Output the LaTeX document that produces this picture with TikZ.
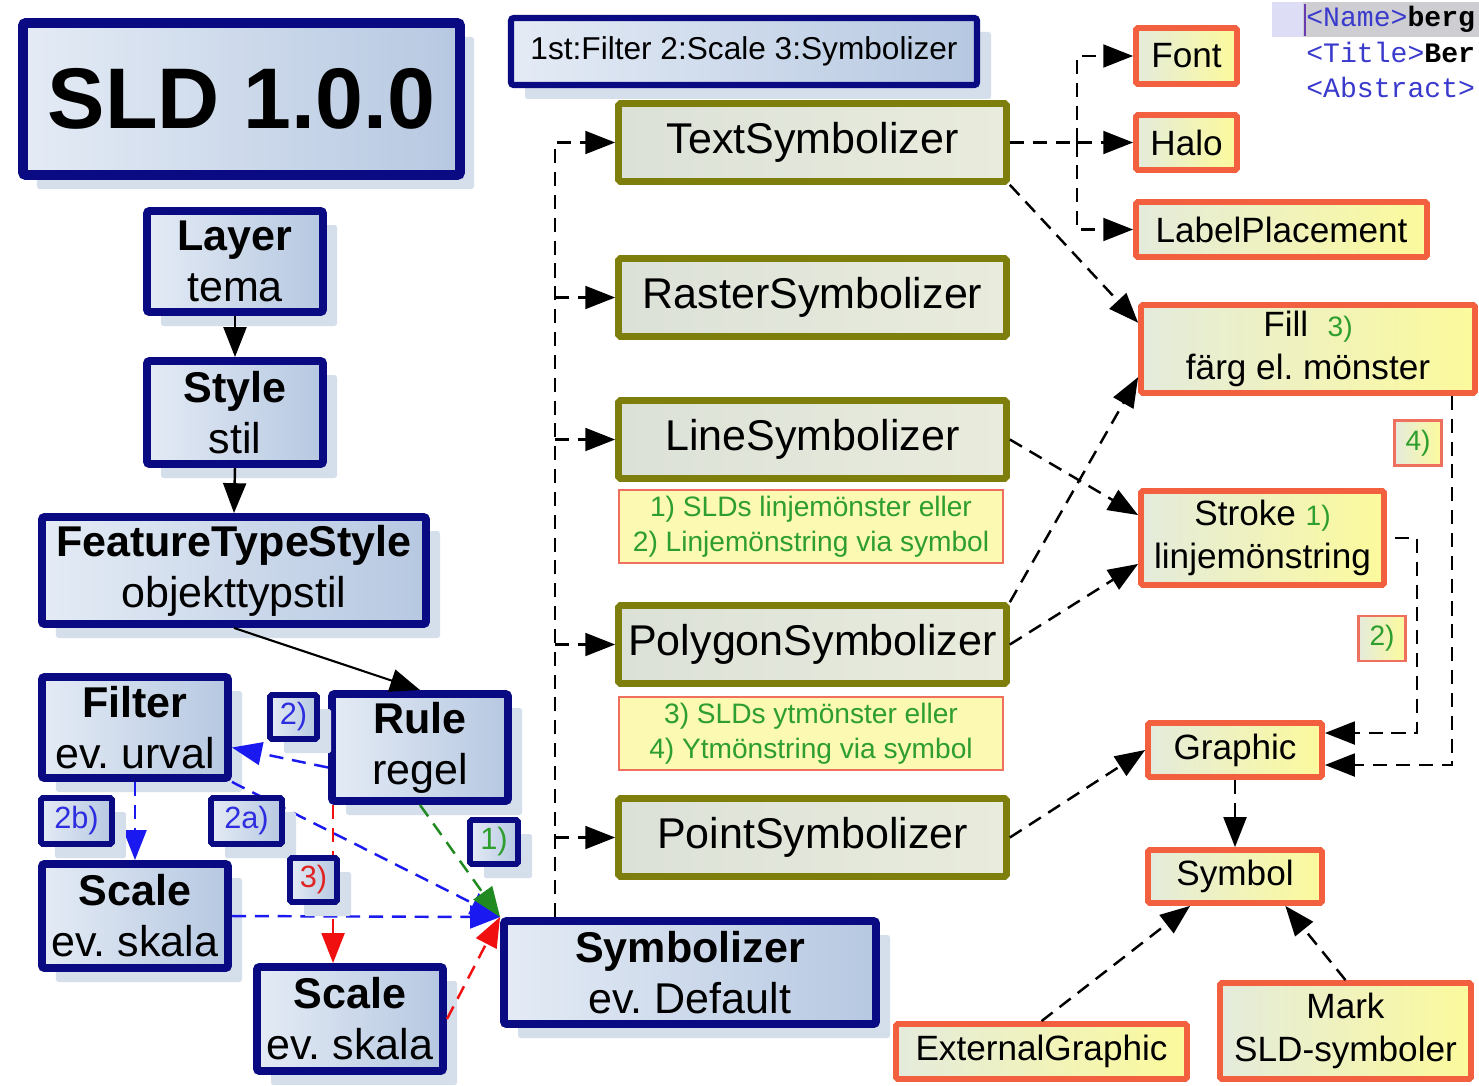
\documentclass[tikz,border=0pt]{standalone}
\usepackage{fontspec}
\setmainfont{Liberation Sans}
\newfontfamily\codefont{Liberation Mono}
\usetikzlibrary{arrows.meta,calc,shadows}
\definecolor{navy}{HTML}{0A0A82}
\definecolor{boxL}{HTML}{E4EBF5}
\definecolor{boxR}{HTML}{B6C8E1}
\definecolor{shadowc}{HTML}{D5DEEB}
\definecolor{olive}{HTML}{7E7E0C}
\definecolor{olL}{HTML}{DCE1D8}
\definecolor{olR}{HTML}{E9ECDC}
\definecolor{redB}{HTML}{F2603F}
\definecolor{yelL}{HTML}{E4EBDC}
\definecolor{yelR}{HTML}{FCFA9C}
\definecolor{noteF}{HTML}{FBF9B2}
\definecolor{noteB}{HTML}{F07060}
\definecolor{greenT}{HTML}{2E9E2E}
\definecolor{labblue}{HTML}{2E2EE0}
\definecolor{labred}{HTML}{E02424}
\definecolor{dblue}{HTML}{1A1AF0}
\definecolor{dred}{HTML}{F01010}
\definecolor{dgreen}{HTML}{208A20}
\definecolor{tagblue}{HTML}{3A3ACC}
\definecolor{selgray}{HTML}{CDCDD2}
\definecolor{lav}{HTML}{DDDDF6}
\definecolor{cursor}{HTML}{6A3AB0}
\frenchspacing
\begin{document}
\begin{tikzpicture}[x=0.02cm, y=-0.02cm,
  sz/.style 2 args={minimum width=#1*0.02cm, minimum height=#2*0.02cm},
  shadowed/.style={drop shadow={shadow xshift=0.28cm, shadow yshift=-0.28cm, fill=shadowc, opacity=1}},
  bluebox/.style={draw=navy, line width=4.5pt, left color=boxL, right color=boxR, rounded corners=1.5pt, align=center, inner sep=0pt, shadowed, font=\fontsize{24.5}{29}\selectfont},
  olivebox/.style={draw=olive, line width=3.8pt, left color=olL, right color=olR, rounded corners=1pt, inner sep=0pt, sz={388}{78}, font=\fontsize{24.5}{29}\selectfont},
  redbox/.style={draw=redB, line width=3.3pt, left color=yelL, right color=yelR, rounded corners=1pt, align=center, inner sep=0pt, font=\fontsize{20}{24.5}\selectfont},
  note/.style={draw=noteB, line width=1pt, fill=noteF, align=center, inner sep=0pt, sz={384}{73}, text=greenT, font=\fontsize{16}{20}\selectfont},
  lab/.style={draw=navy, line width=3.3pt, left color=boxL, right color=boxR, rounded corners=1pt, inner sep=0pt, shadowed, font=\fontsize{17.5}{20}\selectfont},
  rlab/.style={draw=noteB, line width=1.6pt, left color=yelL, right color=yelR, inner sep=0pt, sz={47}{45}, text=greenT, font=\fontsize{16}{20}\selectfont},
  arr/.style={-{Triangle[length=17pt,width=13pt]}},
  dl/.style={line width=1.4pt, dash pattern=on 8pt off 5pt},
]
\useasboundingbox (0,0) rectangle (1479,1085);
\fill[white] (0,0) rectangle (1479,1085);

% code excerpt (top right)
\begin{scope}
\clip (0,0) rectangle (1479,1085);
\fill[lav] (1272,2) rectangle (1303,37);
\fill[selgray] (1303,2) rectangle (1479,37);
\draw[cursor, line width=1pt] (1305,4) -- (1305,36);
\node[anchor=base west, inner sep=0pt, font=\codefont\fontsize{16}{18}\selectfont] (c1) at (1306,27) {\textcolor{tagblue}{<Name>}\textbf{berg}};
\node[anchor=base west, inner sep=0pt, font=\codefont\fontsize{16}{18}\selectfont] (c2) at (1306,62) {\textcolor{tagblue}{<Title>}\textbf{Ber}};
\node[anchor=base west, inner sep=0pt, font=\codefont\fontsize{16}{18}\selectfont] (c3) at (1306,97) {\textcolor{tagblue}{<Abstract>}};
\end{scope}

% blue boxes
\node[bluebox, sz={437}{152}, line width=5.5pt, font=\bfseries\fontsize{49}{50}\selectfont] (sld) at (241.5,99) {SLD 1.0.0};
\node[bluebox, sz={466}{67}, line width=3.5pt, font=\fontsize{18}{20}\selectfont] (hdr) at (744,51.5) {1st:Filter 2:Scale 3:Symbolizer};
\node[bluebox, sz={176}{101}] (layer) at (235,261.5) {\textbf{Layer}\\tema};
\node[bluebox, sz={176}{103}] (style) at (235,412.5) {\textbf{Style}\\stil};
\node[bluebox, sz={384}{107}] (fts) at (234,570.5) {\textbf{FeatureTypeStyle}\\objekttypstil};
\node[bluebox, sz={186}{101}] (filter) at (135,727.5) {\textbf{Filter}\\ev. urval};
\node[bluebox, sz={176}{107}] (rule) at (420,747.5) {\textbf{Rule}\\regel};
\node[bluebox, sz={186}{104}] (scaleA) at (135,916) {\textbf{Scale}\\ev. skala};
\node[bluebox, sz={186}{104}] (scaleB) at (350,1019) {\textbf{Scale}\\ev. skala};
\node[bluebox, sz={372}{103}] (sym) at (690,972.5) {\textbf{Symbolizer}\\ev. Default};

% olive symbolizer boxes
\node[olivebox] (tsym) at (812.5,142.5) {TextSymbolizer};
\node[olivebox] (rsym) at (812.5,297.5) {RasterSymbolizer};
\node[olivebox] (lsym) at (812.5,439.5) {LineSymbolizer};
\node[olivebox] (psym) at (812.5,644.5) {PolygonSymbolizer};
\node[olivebox] (ptsym) at (812.5,837.5) {PointSymbolizer};

% notes
\node[note] (n1) at (811,526.5) {1) SLDs linjemönster eller\\2) Linjemönstring via symbol};
\node[note] (n2) at (811,733.5) {3) SLDs ytmönster eller\\4) Ytmönstring via symbol};

% red boxes
\node[redbox, sz={101}{56}] (fontb) at (1186.5,56) {Font};
\node[redbox, sz={101}{55}] (halo) at (1186.5,142.5) {Halo};
\node[redbox, sz={291}{55}] (lp) at (1281.5,229.5) {LabelPlacement};
\node[redbox, sz={334}{88}] (fill) at (1308,349) {Fill\hspace{0.55em}{\color{greenT}\fontsize{16}{20}\selectfont 3)}\\färg el. mönster};
\node[redbox, sz={243}{94}] (stroke) at (1262.5,538) {Stroke {\color{greenT}\fontsize{16}{20}\selectfont 1)}\\linjemönstring};
\node[redbox, sz={174}{54}] (graphic) at (1235,750) {Graphic};
\node[redbox, sz={174}{53}] (symbol) at (1235,876.5) {Symbol};
\node[redbox, sz={291}{55}] (ext) at (1041.5,1051.5) {ExternalGraphic};
\node[redbox, sz={251}{96}] (mark) at (1345.5,1031) {Mark\\SLD-symboler};

% connectors, left part
\draw[line width=1.4pt, arr] (layer.south) -- (style.north);
\draw[line width=1.4pt, arr] (style.south) -- (fts.north);
\draw[line width=1.2pt, arr] (fts.south) -- (rule.north);
\draw[dl, dblue, arr] ($(rule.west)+(0,20)$) -- ($(filter.east)+(0,20)$);
\draw[dl, dblue, arr] (filter.south) -- (scaleA.north);
\draw[dl, dblue, arr] (filter.south east) -- (sym.north west);
\draw[dl, dblue, arr] (scaleA.east) -- (sym.north west);
\draw[dl, dred, arr] ($(rule.south west)+(5,0)$) coordinate (r3) -- (r3 |- scaleB.north);
\draw[dl, dgreen, arr] (rule.south) -- (sym.north west);
\draw[dl, dred, arr] (scaleB.east) -- (sym.north west);

% trunk to symbolizers
\coordinate (tb) at ($(sym.north west)+(55,0)$);
\draw[dl, arr] (tb) |- (tsym.west);
\draw[dl, arr] (tb |- rsym.west) -- (rsym.west);
\draw[dl, arr] (tb |- lsym.west) -- (lsym.west);
\draw[dl, arr] (tb |- psym.west) -- (psym.west);
\draw[dl, arr] (tb |- ptsym.west) -- (ptsym.west);

% text symbolizer children
\draw[dl, arr] (tsym.east) -- (halo.west);
\coordinate (tj) at ($(tsym.east)!0.544!(halo.west)$);
\draw[dl, arr] (tj) |- (fontb.west);
\draw[dl, arr] (tj) |- (lp.west);

% to fill / stroke / graphic
\draw[dl, arr] (tsym.south east) -- ($(fill.north west)!0.22!(fill.south west)$);
\draw[dl, arr] (lsym.east) -- ($(stroke.north west)!0.27!(stroke.south west)$);
\draw[dl, arr] (psym.north east) -- ($(fill.north west)!0.8!(fill.south west)$);
\draw[dl, arr] (psym.east) -- ($(stroke.north west)!0.76!(stroke.south west)$);
\draw[dl, arr] (ptsym.east) -- (graphic.west);
\draw[dl, arr] ($(stroke.east)+(8,0)$) -- ++(22,0) |- ($(graphic.east)+(0,-17)$);
\draw[dl, arr] ($(fill.south east)+(-26,0)$) |- ($(graphic.east)+(0,15)$);
\draw[dl, arr] (graphic.south) -- (symbol.north);
\draw[dl, arr] (ext.north) -- ($(symbol.south west)!0.25!(symbol.south east)$);
\draw[dl, arr] (mark.north) -- ($(symbol.south west)!0.78!(symbol.south east)$);

% small labels
\node[lab, sz={47}{44}, text=labblue] (l2) at (293.5,717) {2)};
\node[lab, sz={71}{46}, text=labblue] (l2b) at (76.5,821) {2b)};
\node[lab, sz={71}{46}, text=labblue] (l2a) at (246.5,821) {2a)};
\node[lab, sz={47}{44}, text=labred] (l3) at (313.5,880) {3)};
\node[lab, sz={48}{44}, text=greenT] (l1) at (494,842) {1)};
\node[rlab] (r4) at (1418,443) {4)};
\node[rlab] (r2) at (1382,638.5) {2)};
\end{tikzpicture}
\end{document}
